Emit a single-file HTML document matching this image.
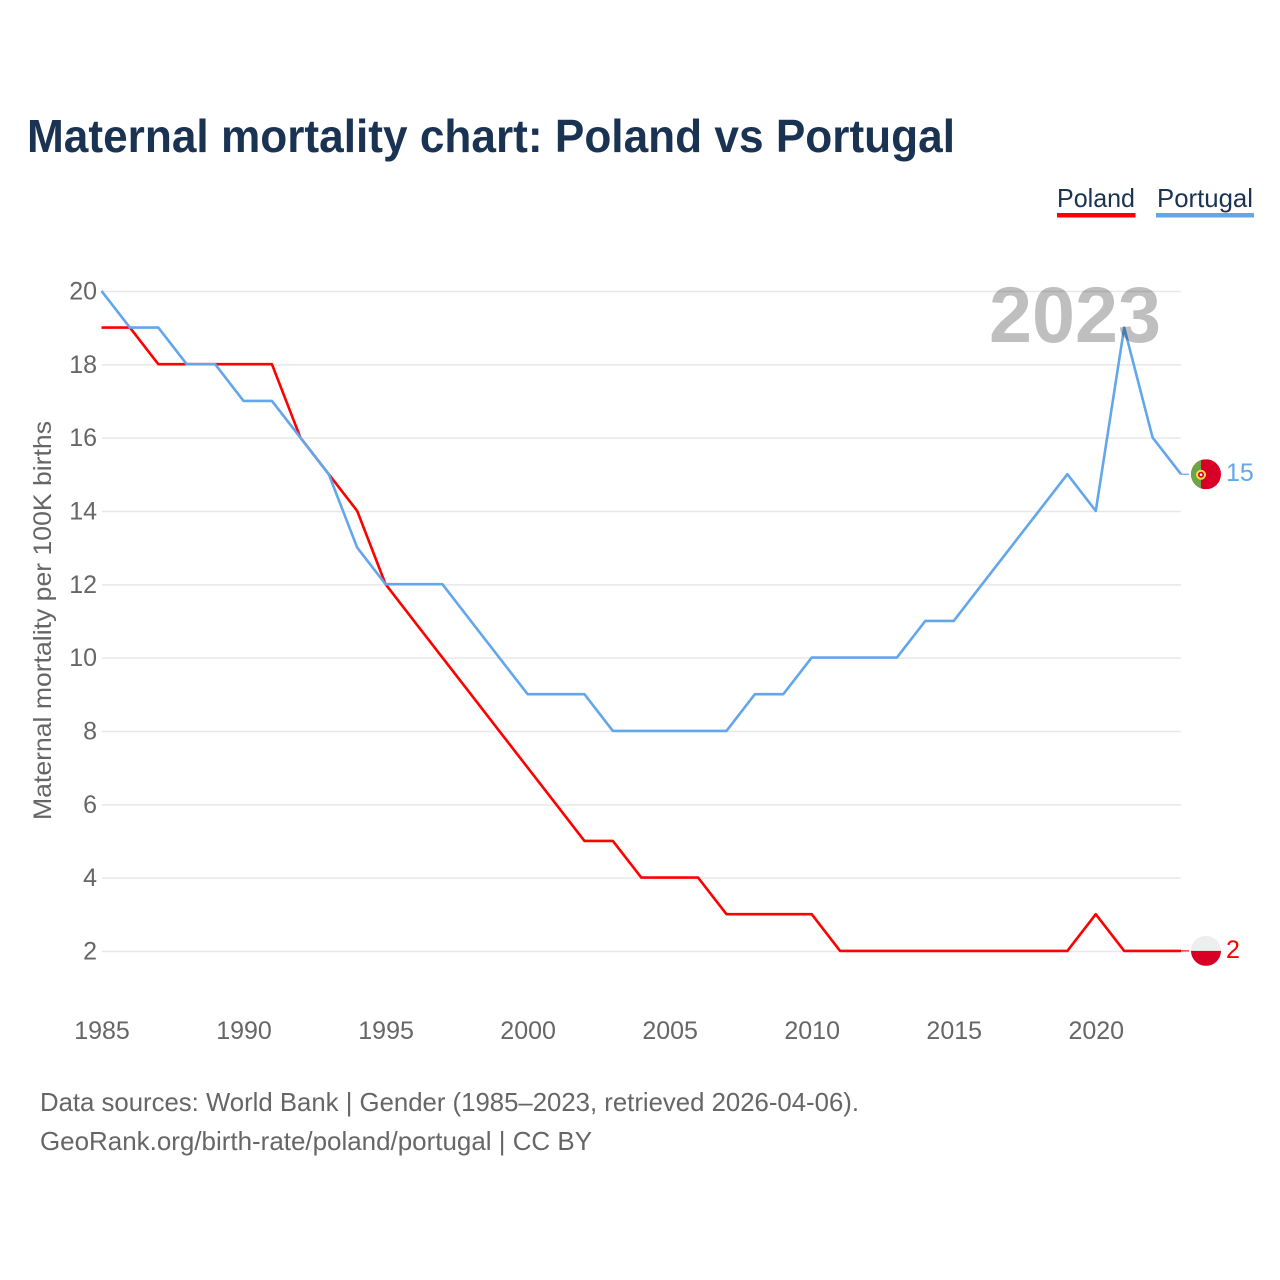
<!DOCTYPE html>
<html>
<head>
<meta charset="utf-8">
<style>
html,body{margin:0;padding:0;background:#fff;}
svg{display:block;font-family:"Liberation Sans",sans-serif;}
</style>
</head>
<body>
<svg id="chart" width="1280" height="1280" viewBox="0 0 1280 1280" xmlns="http://www.w3.org/2000/svg">
  <rect width="1280" height="1280" fill="#ffffff"/>
  <text x="27" y="152" font-size="46" font-weight="700" fill="#1a3352" textLength="928" lengthAdjust="spacingAndGlyphs">Maternal mortality chart: Poland vs Portugal</text>

  <g>
    <g>
      <text x="1057" y="207" font-size="26" fill="#1a3352" textLength="78" lengthAdjust="spacingAndGlyphs">Poland</text>
      <rect x="1057" y="213" width="78.5" height="4.5" fill="#ff0000"/>
    </g>
    <g>
      <text x="1157" y="207" font-size="26" fill="#1a3352" textLength="96" lengthAdjust="spacingAndGlyphs">Portugal</text>
      <rect x="1156" y="213" width="98" height="4.5" fill="#62a6ec"/>
    </g>
  </g>

  <g id="grid"></g>
  <g id="yticks"></g>
  <g id="xticks"></g>
  <text transform="translate(51,820) rotate(-90)" font-size="25" fill="#666666" textLength="399" lengthAdjust="spacingAndGlyphs">Maternal mortality per 100K births</text>

  <g id="series"></g>

  <text x="989" y="342" font-size="79" font-weight="700" fill="#000000" fill-opacity="0.25" textLength="172" lengthAdjust="spacingAndGlyphs">2023</text>

  <g id="ends"></g>

  <text x="40" y="1111" font-size="26" fill="#666666" textLength="819" lengthAdjust="spacingAndGlyphs">Data sources: World Bank | Gender (1985–2023, retrieved 2026-04-06).</text>
  <text x="40" y="1150" font-size="26" fill="#666666" textLength="552" lengthAdjust="spacingAndGlyphs">GeoRank.org/birth-rate/poland/portugal | CC BY</text>
</svg>
<script>
const years = [1985,1986,1987,1988,1989,1990,1991,1992,1993,1994,1995,1996,1997,1998,1999,2000,2001,2002,2003,2004,2005,2006,2007,2008,2009,2010,2011,2012,2013,2014,2015,2016,2017,2018,2019,2020,2021,2022,2023];
const polandValues = [19,19,18,18,18,18,18,16,15,14,12,11,10,9,8,7,6,5,5,4,4,4,3,3,3,3,2,2,2,2,2,2,2,2,2,3,2,2,2];
const portugalValues = [20,19,19,18,18,17,17,16,15,13,12,12,12,11,10,9,9,9,8,8,8,8,8,9,9,10,10,10,10,11,11,12,13,14,15,14,19,16,15];
const yTickLabels = [2,4,6,8,10,12,14,16,18,20];
const xTickLabels = [1985,1990,1995,2000,2005,2010,2015,2020];

const NS = 'http://www.w3.org/2000/svg';
function xScale(year) { return 101.5 + (year - 1985) * (1181 - 101.5) / 38; }
function yScale(value) { return 951.5 - (value - 2) * (951.5 - 291.5) / 18; }
function make(tag, attrs, parent) {
  const el = document.createElementNS(NS, tag);
  for (const k in attrs) el.setAttribute(k, attrs[k]);
  parent.appendChild(el);
  return el;
}

const grid = document.getElementById('grid');
const yticks = document.getElementById('yticks');
yTickLabels.forEach(function (v) {
  const line = make('line', {x1: 102, x2: 1181, y1: yScale(v), y2: yScale(v), stroke: '#e8e8e8', 'stroke-width': 1.5}, grid);
  
  
  const label = make('text', {x: 97, y: yScale(v) + 8, 'text-anchor': 'end', 'font-size': 25, fill: '#666666'}, yticks);
  
  
  label.textContent = v;
});

const xticks = document.getElementById('xticks');
xTickLabels.forEach(function (y) {
  const label = make('text', {x: xScale(y) + 0.5, y: 1039, 'text-anchor': 'middle', 'font-size': 25, fill: '#666666'}, xticks);
  
  
  label.textContent = y;
});

const series = document.getElementById('series');
function drawLine(values, color, name) {
  const pts = values.map(function (v, i) { return xScale(years[i]) + ',' + (yScale(v) - 0.6); }).join(' ');
  const line = make('polyline', {points: pts, fill: 'none', stroke: color, 'stroke-width': 2.6, 'stroke-linejoin': 'round'}, series);
  
  
}
drawLine(polandValues, '#ff0000', 'line-poland');
drawLine(portugalValues, '#62a6ec', 'line-portugal');

const ends = document.getElementById('ends');
function endMarker(values, color, key) {
  const v = values[values.length - 1];
  const cy = yScale(v) - 0.6;
  const x0 = xScale(years[years.length - 1]);
  const cx = x0 + 25;
  const group = make('g', {}, ends);
  
  
  const conn = make('line', {x1: x0, x2: x0 + 8, y1: cy, y2: cy, stroke: color, 'stroke-width': 1.2}, group);
  
  
  const clipId = 'clip-' + key;
  const clip = make('clipPath', {id: clipId}, group);
  make('circle', {cx: cx, cy: cy, r: 15}, clip);
  const flag = make('g', {'clip-path': 'url(#' + clipId + ')'}, group);
  
  
  if (key === 'poland') {
    make('rect', {x: cx - 15, y: cy - 15, width: 30, height: 15, fill: '#eeeeee'}, flag);
    make('rect', {x: cx - 15, y: cy, width: 30, height: 15, fill: '#d80027'}, flag);
  } else {
    make('rect', {x: cx - 15, y: cy - 15, width: 30, height: 30, fill: '#d80027'}, flag);
    make('rect', {x: cx - 15, y: cy - 15, width: 10, height: 30, fill: '#6da544'}, flag);
    make('circle', {cx: cx - 5, cy: cy + 0.5, r: 4, fill: '#d80027', stroke: '#ffda44', 'stroke-width': 2}, flag);
    make('circle', {cx: cx - 5, cy: cy + 0.5, r: 1.3, fill: '#eeeeee'}, flag);
  }
  const label = make('text', {x: cx + 20, y: cy + 7, 'font-size': 25, fill: color}, group);
  
  
  label.textContent = v;
}
endMarker(polandValues, '#ff0000', 'poland');
endMarker(portugalValues, '#62a6ec', 'portugal');
</script>
</body>
</html>
